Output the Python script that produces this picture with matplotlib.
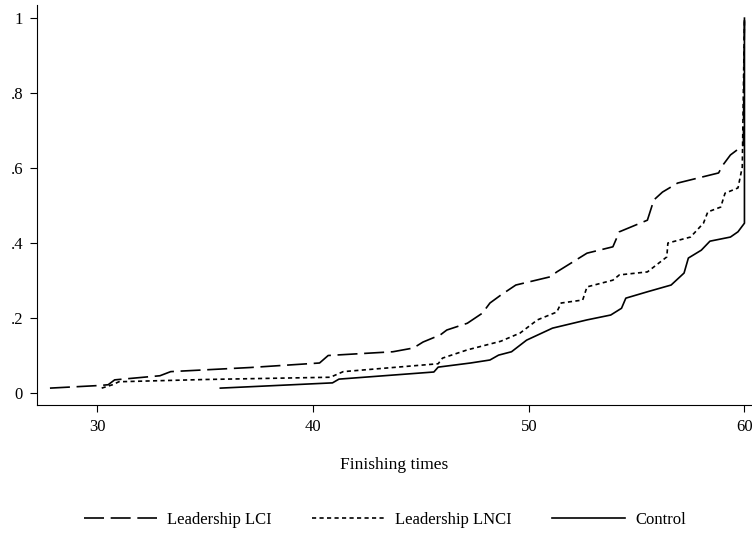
import matplotlib.pyplot as plt

# cumulative share of finishers by finishing time
lci_x = [27.8, 30.1, 30.5, 30.8, 32.9, 33.4, 37.1, 40.3, 40.7, 43.7, 44.65, 45.1, 45.9, 46.2,
         47.15, 47.85, 48.2, 48.7, 49.4, 51.0, 51.3, 52.7, 53.9, 54.2, 55.5, 55.8, 56.2, 56.9,
         58.8, 59.0, 59.35, 59.95, 60.0]
lci_y = [0.013, 0.02, 0.022, 0.035, 0.046, 0.057, 0.068, 0.08, 0.1, 0.11, 0.12, 0.136, 0.155, 0.168,
         0.186, 0.213, 0.24, 0.261, 0.288, 0.31, 0.323, 0.373, 0.39, 0.43, 0.461, 0.515, 0.536, 0.56,
         0.587, 0.608, 0.635, 0.661, 1.0]

lnci_x = [30.2, 30.7, 31.0, 35.0, 40.8, 41.4, 45.8, 46.0, 47.15, 48.7, 49.6, 50.4, 51.3, 51.5,
          52.5, 52.7, 53.9, 54.2, 55.5, 56.4, 56.45, 57.5, 58.1, 58.3, 58.9, 59.1, 59.7, 59.9, 60.0]
lnci_y = [0.013, 0.022, 0.03, 0.036, 0.042, 0.057, 0.078, 0.093, 0.115, 0.138, 0.16, 0.195, 0.216, 0.24,
          0.248, 0.283, 0.301, 0.315, 0.323, 0.363, 0.4, 0.416, 0.453, 0.483, 0.496, 0.533, 0.547, 0.603, 1.0]

ctrl_x = [35.7, 40.9, 41.2, 45.6, 45.8, 47.3, 48.2, 48.6, 49.2, 49.9, 51.1, 52.7, 53.8, 54.3,
          54.5, 55.5, 56.6, 57.2, 57.4, 58.0, 58.4, 59.35, 59.7, 60.0, 60.0]
ctrl_y = [0.013, 0.027, 0.037, 0.056, 0.069, 0.08, 0.088, 0.101, 0.11, 0.141, 0.173, 0.195, 0.208, 0.226,
          0.253, 0.27, 0.288, 0.32, 0.36, 0.381, 0.405, 0.416, 0.43, 0.453, 1.0]

x_ticks = [30, 40, 50, 60]
y_ticks = [0, 0.2, 0.4, 0.6, 0.8, 1]
y_tick_labels = ["0", ".2", ".4", ".6", ".8", "1"]

plt.rcParams['font.family'] = ['Liberation Serif', 'DejaVu Serif']

fig = plt.figure(figsize=(7.52, 5.34), dpi=100)
ax = fig.add_axes([0.0492, 0.2416, 0.9508, 0.749])

ax.plot(lci_x, lci_y, color="black", lw=1.2, dashes=(12, 4), label="Leadership LCI")
ax.plot(lnci_x, lnci_y, color="black", lw=1.2, dashes=(2.5, 2), label="Leadership LNCI")
ax.plot(ctrl_x, ctrl_y, color="black", lw=1.2, label="Control")

ax.set_xlim(27.2, 60.35)
ax.set_ylim(-0.032, 1.035)
ax.set_xticks(x_ticks)
ax.set_yticks(y_ticks)
ax.set_yticklabels(y_tick_labels)
ax.tick_params(direction="out", length=5, width=0.8, labelsize=12, pad=5)
ax.spines["top"].set_visible(False)
ax.spines["right"].set_visible(False)
ax.set_xlabel("Finishing times", fontsize=12.5, labelpad=16)

fig.legend(loc="center", bbox_to_anchor=(0.512, 0.027), ncol=3, frameon=False,
           fontsize=12, handlelength=4.4, columnspacing=2.4, handletextpad=0.6)

fig.savefig("out.png", dpi=100)
